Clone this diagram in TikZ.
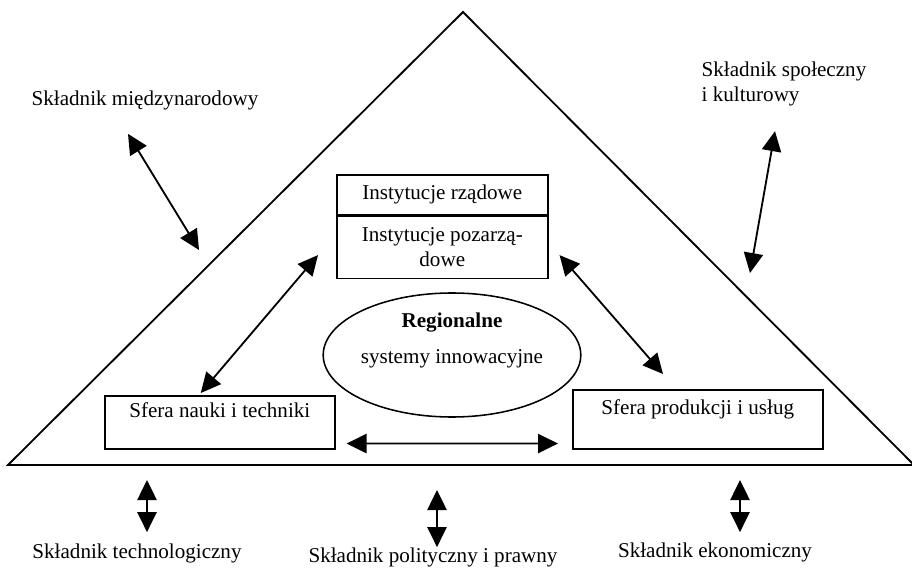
\documentclass[tikz,border=0pt]{standalone}
\usepackage{fontspec}
\setmainfont{Liberation Serif}
\usetikzlibrary{arrows.meta,shapes.geometric}

\tikzset{
  box/.style={draw, line width=1.1pt, align=center, inner sep=0pt},
  biarrow/.style={{Triangle[length=5mm,width=4.8mm]}-{Triangle[length=5mm,width=4.8mm]}, line width=1.3pt},
  factor/.style={align=left, inner sep=0pt}
}

\begin{document}
\begin{tikzpicture}[x=0.25mm, y=-0.25mm, font=\fontsize{15}{17.5}\selectfont]
    \useasboundingbox (0,0) rectangle (912,568);
    % the triangle
    \coordinate (apex) at (463,12);
    \coordinate (baseL) at (8,465);
    \coordinate (baseR) at (914,465);
    \draw[line width=1.3pt] (apex) -- (baseL) -- (baseR) -- cycle;
    % inner boxes
    \node[box, anchor=north west, minimum width=52.75mm, minimum height=10mm] (rzad) at (336,174) {Instytucje rządowe};
    \node[box, anchor=north, minimum width=52.75mm, minimum height=15.5mm] (pozarz) at (rzad.south) {Instytucje pozarzą-\\dowe};
    \node[draw, ellipse, line width=1.1pt, inner sep=0pt, align=center, minimum width=57.75mm, minimum height=31mm] (rsi) at (452,355)
      {\textbf{Regionalne}\\[8pt]systemy innowacyjne\\[6pt]\mbox{}};
    \node[box, anchor=north west, minimum width=57.5mm, minimum height=13.25mm] (nauka) at (104,395) {Sfera nauki i techniki\\\mbox{}};
    \node[box, anchor=north west, minimum width=62.5mm, minimum height=14.75mm] (prod) at (572,389) {Sfera produkcji i usług\\\mbox{}};
    % inner arrows
    \draw[biarrow] ([shift={(11,-6)}]nauka.south east) -- ([shift={(-14,-6)}]prod.south west);
    \draw[biarrow] ([shift={(-19,-2)}]nauka.north) -- ([shift={(-18,-24)}]pozarz.south west);
    \draw[biarrow] ([shift={(11,-24)}]pozarz.south east) -- ([shift={(91,-15)}]prod.north west);
    % outer components
    \node[factor] (miedz) at (145,100) {Składnik międzynarodowy};
    \node[factor] (spol) at (784,84) {Składnik społeczny\\i kulturowy};
    \node[factor] (tech) at (137,553) {Składnik technologiczny};
    \node[factor] (polit) at (433,557) {Składnik polityczny i prawny};
    \node[factor] (ekon) at (715,552) {Składnik ekonomiczny};
    \coordinate (miedzT) at (199,250);
    \coordinate (spolT) at (750,273);
    \coordinate (techT) at (147,480);
    \coordinate (politT) at (437,490);
    \coordinate (ekonT) at (740,480);
    \draw[biarrow] ([shift={(-17,24)}]miedz.south) -- (miedzT);
    \draw[biarrow] ([shift={(-9,25)}]spol.south) -- (spolT);
    \draw[biarrow] (techT) -- ([shift={(10,-11)}]tech.north);
    \draw[biarrow] (politT) -- ([shift={(4,0)}]polit.north);
    \draw[biarrow] (ekonT) -- ([shift={(25,-10)}]ekon.north);
\end{tikzpicture}
\end{document}
